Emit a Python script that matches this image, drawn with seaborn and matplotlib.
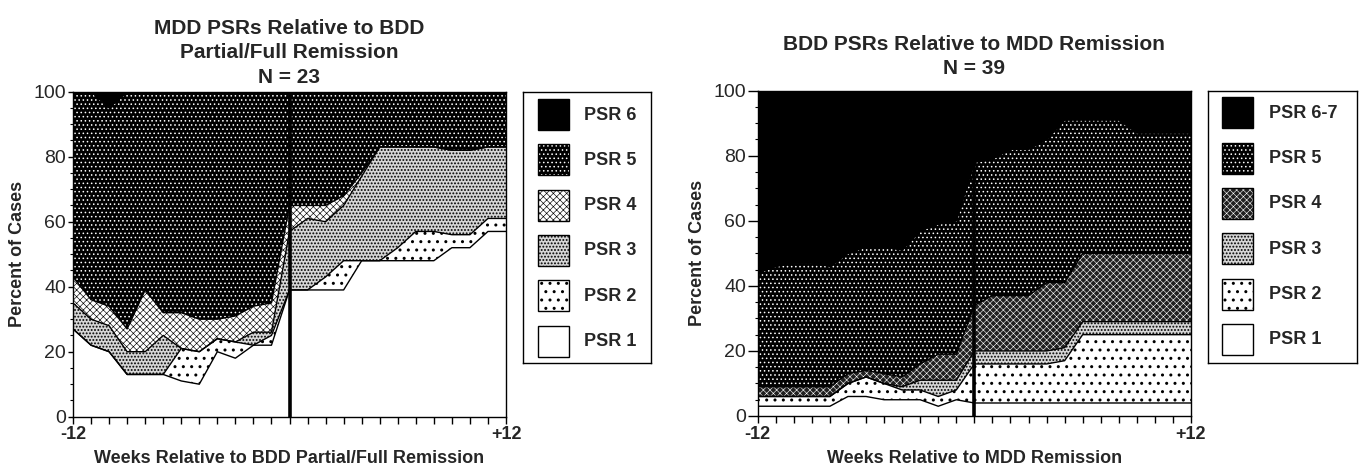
import numpy as np
import matplotlib.pyplot as plt
import seaborn as sns
from matplotlib.patches import Rectangle
from matplotlib.ticker import MultipleLocator

weeks = np.arange(-12, 13)

# MDD PSR levels (percent of cases), weeks relative to BDD partial/full remission, N = 23
mdd_psr1 = [27, 22, 20, 13, 13, 13, 11, 10, 20, 18, 22, 22, 39, 39, 39, 39, 48, 48, 48, 48, 48, 52, 52, 57, 57]
mdd_psr2 = [0, 0, 0, 0, 0, 0, 10, 10, 4, 5, 0, 3, 0, 0, 4, 9, 0, 0, 4, 9, 9, 4, 4, 4, 4]
mdd_psr3 = [8, 8, 8, 7, 7, 12, 0, 0, 0, 0, 4, 1, 18, 22, 17, 17, 26, 35, 31, 26, 26, 26, 26, 22, 22]
mdd_psr4 = [8, 6, 6, 7, 19, 7, 11, 10, 6, 8, 8, 9, 8, 4, 5, 3, 1, 0, 0, 0, 0, 0, 0, 0, 0]
mdd_psr5 = [57, 64, 61, 73, 61, 68, 68, 70, 70, 69, 66, 65, 35, 35, 35, 32, 25, 17, 17, 17, 17, 18, 18, 17, 17]
mdd_psr6 = [0, 0, 5, 0, 0, 0, 0, 0, 0, 0, 0, 0, 0, 0, 0, 0, 0, 0, 0, 0, 0, 0, 0, 0, 0]
mdd_labels = ["PSR 1", "PSR 2", "PSR 3", "PSR 4", "PSR 5", "PSR 6"]

# BDD PSR levels (percent of cases), weeks relative to MDD remission, N = 39
bdd_psr1 = [3, 3, 3, 3, 3, 6, 6, 5, 5, 5, 3, 5, 4, 4, 4, 4, 4, 4, 4, 4, 4, 4, 4, 4, 4]
bdd_psr2 = [3, 3, 3, 3, 3, 4, 6, 5, 3, 3, 3, 3, 12, 12, 12, 12, 12, 13, 21, 21, 21, 21, 21, 21, 21]
bdd_psr3 = [0, 0, 0, 0, 0, 0, 0, 0, 1, 3, 5, 3, 4, 4, 4, 4, 4, 4, 4, 4, 4, 4, 4, 4, 4]
bdd_psr4 = [3, 3, 3, 3, 3, 3, 2, 3, 3, 5, 8, 8, 14, 17, 17, 17, 21, 20, 21, 21, 21, 21, 21, 21, 21]
bdd_psr5 = [35, 37, 38, 38, 37, 37, 38, 39, 39, 41, 40, 41, 44, 42, 45, 45, 44, 50, 41, 41, 41, 37, 37, 37, 37]
bdd_psr67 = [56, 54, 53, 53, 54, 50, 48, 48, 49, 43, 41, 40, 22, 21, 18, 18, 15, 9, 9, 9, 9, 13, 13, 13, 13]
bdd_labels = ["PSR 1", "PSR 2", "PSR 3", "PSR 4", "PSR 5", "PSR 6-7"]

sns.set_theme(style="ticks")
plt.rcParams['font.family'] = 'Liberation Sans'

# fill style per level: face colour, hatch, hatch colour, hatch line width
left_styles = [
    ("white", None, "black", 1.0),
    ("white", "..", "black", 1.0),
    ("#d6d6d6", ".....", "black", 0.9),
    ("white", "xxxxx", "black", 0.45),
    ("black", "....", "white", 0.6),
    ("black", None, "black", 1.0),
]
right_styles = list(left_styles)
right_styles[3] = ("#202020", "xxxxx", "white", 0.4)


def fill_area(ax, x, lower, upper, style):
    face, hatch, hcol, hlw = style
    with plt.rc_context({'hatch.linewidth': hlw}):
        coll = ax.fill_between(x, lower, upper, facecolor=face, edgecolor=hcol,
                               hatch=hatch, linewidth=0)
    return coll


def draw_panel(ax, levels, styles, title, xlabel, title_pad, ytick_len):
    tops = np.cumsum(np.array(levels, dtype=float), axis=0)
    bottom = np.zeros(len(weeks))
    for top, st in zip(tops, styles):
        fill_area(ax, weeks, bottom, top, st)
        bottom = top
    for top in tops[:-1]:
        sns.lineplot(x=weeks, y=top, color="black", linewidth=1.0, ax=ax)
    ax.axvline(0, color="black", linewidth=2.6)

    ax.set_xlim(-12, 12)
    ax.set_ylim(0, 100)
    ax.set_xticks(weeks)
    ax.set_xticklabels(["-12" if w == -12 else "+12" if w == 12 else "" for w in weeks],
                       fontweight="bold")
    ax.set_yticks(range(0, 101, 20))
    ax.yaxis.set_minor_locator(MultipleLocator(5))
    ax.tick_params(axis="x", length=5, width=1, pad=2, labelsize=13, color="black")
    ax.tick_params(axis="y", which="major", length=ytick_len, width=1, pad=1.5,
                   labelsize=14, color="black")
    ax.tick_params(axis="y", which="minor", length=2.5, width=0.8, color="black")
    for sp in ax.spines.values():
        sp.set_color("black")
        sp.set_linewidth(1.0)
    ax.set_xlabel(xlabel, fontsize=13, fontweight="bold", labelpad=5)
    ax.set_ylabel("Percent of Cases", fontsize=13, fontweight="bold", labelpad=5)
    ax.set_title(title, fontsize=15, fontweight="bold", pad=title_pad, linespacing=1.35)


def draw_key(rect, labels, styles, box_w, box_h, sw_x, first_top, text_x):
    lax = fig.add_axes(rect)
    lax.set_xlim(0, box_w)
    lax.set_ylim(box_h, 0)
    lax.set_xticks([])
    lax.set_yticks([])
    for sp in lax.spines.values():
        sp.set_color("black")
        sp.set_linewidth(1.0)
    pitch = 45.3
    for i, (lab, st) in enumerate(zip(labels[::-1], styles[::-1])):
        y0 = first_top + i * pitch
        face, hatch, hcol, hlw = st
        with plt.rc_context({'hatch.linewidth': hlw}):
            lax.add_patch(Rectangle((sw_x, y0), 31, 31, facecolor=face, edgecolor=hcol,
                                    hatch=hatch, linewidth=0))
        lax.add_patch(Rectangle((sw_x, y0), 31, 31, facecolor="none",
                                edgecolor="black", linewidth=1.0))
        lax.text(text_x, y0 + 16, lab, fontsize=13, fontweight="bold",
                 va="center", ha="left")


W, H = 1360, 474
fig = plt.figure(figsize=(13.6, 4.74), dpi=100)
ax1 = fig.add_axes([73 / W, 1 - 416.7 / H, 433 / W, 325 / H])
ax2 = fig.add_axes([757.7 / W, 1 - 416 / H, 433.3 / W, 325.3 / H])

draw_panel(ax1, [mdd_psr1, mdd_psr2, mdd_psr3, mdd_psr4, mdd_psr5, mdd_psr6], left_styles,
           "MDD PSRs Relative to BDD\nPartial/Full Remission\nN = 23",
           "Weeks Relative to BDD Partial/Full Remission", 6.5, 3.6)
draw_panel(ax2, [bdd_psr1, bdd_psr2, bdd_psr3, bdd_psr4, bdd_psr5, bdd_psr67], right_styles,
           "BDD PSRs Relative to MDD Remission\nN = 39",
           "Weeks Relative to MDD Remission", 12, 7)

draw_key([523 / W, 1 - 363 / H, 128 / W, 271 / H], mdd_labels, left_styles,
         128, 271, 15, 7, 61)
draw_key([1208 / W, 1 - 363 / H, 149 / W, 272 / H], bdd_labels, right_styles,
         149, 272, 14, 6.3, 61)

fig.savefig("out.png", dpi=100, facecolor="white")
